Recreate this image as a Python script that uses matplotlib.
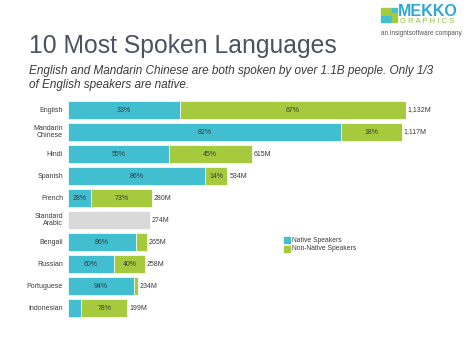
import matplotlib
matplotlib.use("Agg")
import matplotlib.pyplot as plt
from matplotlib.patches import Rectangle

plt.rcParams['font.family'] = ['Liberation Sans', 'DejaVu Sans']

languages = ["English", "Mandarin\nChinese", "Hindi", "Spanish", "French",
             "Standard\nArabic", "Bengali", "Russian", "Portuguese", "Indonesian"]
totals = [1132, 1117, 615, 534, 280, 274, 265, 258, 234, 199]
native_pct = [33, 82, 55, 86, 28, None, 86, 60, 94, 22]
nonnative_pct = [67, 18, 45, 14, 73, None, 14, 40, 6, 78]
legend_labels = ["Native Speakers", "Non-Native Speakers"]

C_NAT = "#41BFD1"
C_NON = "#A6CA3D"
C_GREY = "#D9D9D9"
TXT = "#3A3A3A"

W, H = 474, 355
fig = plt.figure(figsize=(W / 100, H / 100), dpi=100)
fig.patch.set_facecolor("white")

def fx(px):
    return px / W

def fy(py):
    return 1 - py / H

# axes in pixel placement
ax_left, ax_right = 68, 406
ax_top, ax_bot = 99, 319
ax = fig.add_axes([fx(ax_left), fy(ax_bot), (ax_right - ax_left) / W, (ax_bot - ax_top) / H])
ax.set_xlim(0, max(totals))
ax.set_ylim(len(languages) - 0.5, -0.5)
ax.axis("off")

px_per_unit = (ax_right - ax_left) / max(totals)
min_px = 16

for i, (lang, tot, nat, non) in enumerate(zip(languages, totals, native_pct, nonnative_pct)):
    bh = 0.82
    if nat is None:
        ax.barh(i, tot, height=bh, color=C_GREY, edgecolor="white", linewidth=0.5)
    else:
        s = nat + non
        wn = tot * nat / s
        wo = tot * non / s
        ax.barh(i, wn, height=bh, color=C_NAT, edgecolor="white", linewidth=0.5)
        ax.barh(i, wo, left=wn, height=bh, color=C_NON, edgecolor="white", linewidth=0.5)
        if wn * px_per_unit > min_px:
            ax.text(wn / 2, i, f"{nat}%", ha="center", va="center", fontsize=5.0, color=TXT)
        if wo * px_per_unit > min_px:
            ax.text(wn + wo / 2, i, f"{non}%", ha="center", va="center", fontsize=5.0, color=TXT)
    ax.text(tot + 6, i, f"{tot:,}M", ha="left", va="center", fontsize=5.0, color=TXT)
    ax.text(-5 / px_per_unit, i, lang, ha="right", va="center", fontsize=5.0,
            color=TXT, linespacing=1.05)

# Title and subtitle
fig.text(fx(29), fy(53), "10 Most Spoken Languages", fontsize=17.8, color="#4B5260",
         ha="left", va="baseline")
fig.text(fx(29), fy(74), "English and Mandarin Chinese are both spoken by over 1.1B people. Only 1/3",
         fontsize=8.5, style="italic", color="#3A3A3A", ha="left", va="baseline")
fig.text(fx(29), fy(88), "of English speakers are native.",
         fontsize=8.5, style="italic", color="#3A3A3A", ha="left", va="baseline")

# Legend
for k, (lab, col) in enumerate(zip(legend_labels, [C_NAT, C_NON])):
    y0 = 237 + k * 9
    fig.patches.append(Rectangle((fx(284), fy(y0 + 6)), 6 / W, 6 / H,
                                 transform=fig.transFigure, color=col))
    fig.text(fx(292), fy(y0 + 3), lab, fontsize=4.9, color=TXT, ha="left", va="center")

# Logo
logo_rects = [
    (381, 8, 5, 7, "#A6CA3D"), (387, 8, 4, 7, "#A6CA3D"), (392, 8, 5, 4, "#41BFD1"),
    (392, 13, 5, 3, "#A6CA3D"), (381, 16, 5, 6, "#41BFD1"), (387, 16, 4, 6, "#41BFD1"),
    (392, 17, 5, 5, "#A6CA3D"),
]
for (x, y, w, h, c) in logo_rects:
    fig.patches.append(Rectangle((fx(x), fy(y + h)), w / W, h / H,
                                 transform=fig.transFigure, color=c))
fig.text(fx(398), fy(16.5), "MEKKO", fontsize=11.5, fontweight="bold", color="#2EA7D8",
         ha="left", va="baseline")
fig.text(fx(400), fy(23), "G R A P H I C S", fontsize=5.6, color="#8DC63F",
         ha="left", va="baseline")
fig.text(fx(381), fy(35), "an insightsoftware company", fontsize=4.7, color="#555555",
         ha="left", va="baseline")

fig.savefig("out.png", dpi=100, facecolor="white")
